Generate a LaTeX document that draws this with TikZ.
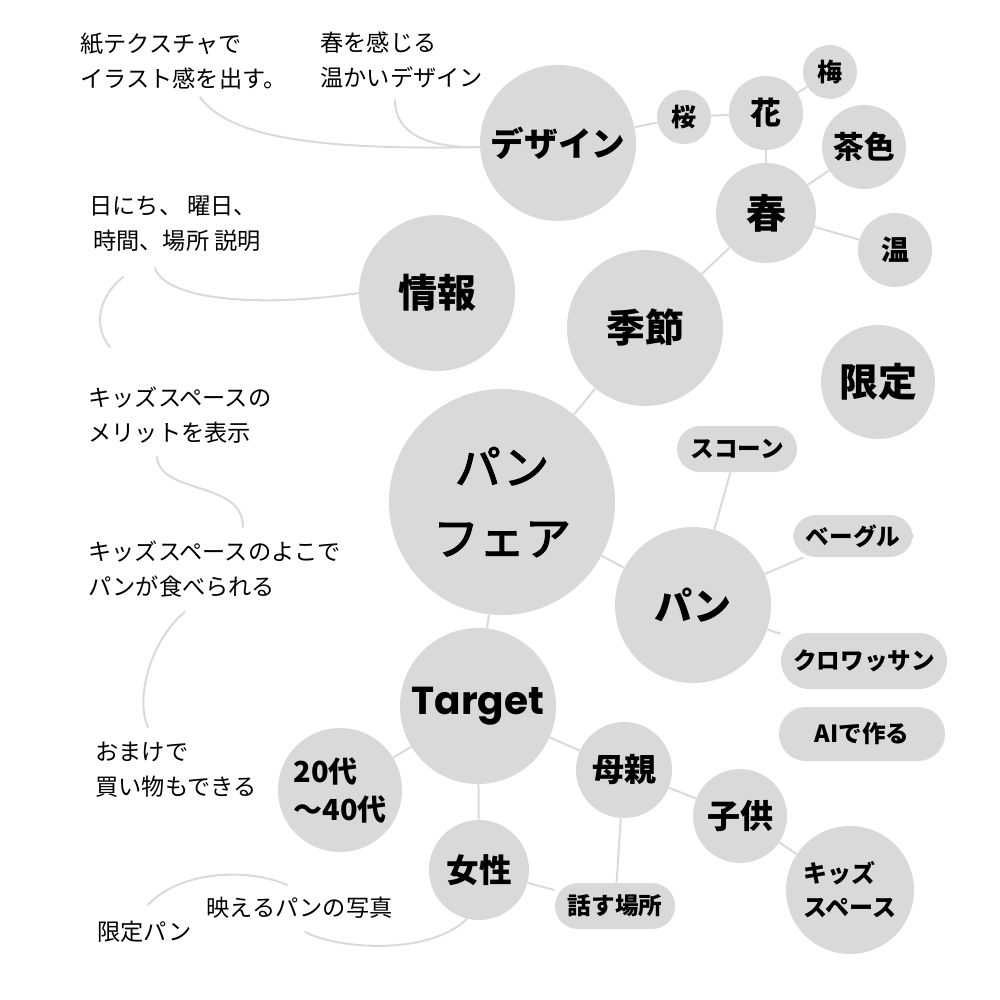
\documentclass[tikz,border=0pt]{standalone}
\usepackage{fontspec}
\setmainfont{Noto Sans CJK JP}
\newfontfamily\mediumjp{Noto Sans CJK JP}[BoldFont={Noto Sans CJK JP}, BoldFeatures={FakeBold=2.6}]
\newfontfamily\latinbold{Poppins}
\usepackage{xcolor}
\usetikzlibrary{calc}
\definecolor{bubblegray}{HTML}{D9D9D9}
\definecolor{linkgray}{HTML}{DADADA}
\newcommand{\fsz}[2]{\fontsize{#1}{#2}\selectfont}
\tikzset{
  bubble/.style={circle, fill=bubblegray, draw=none, inner sep=0pt,
                 minimum size=#1pt, align=center, text=black},
  pill/.style={rectangle, rounded corners=11.5pt, fill=bubblegray, inner sep=0pt,
               minimum height=23pt, text width=#1pt, align=center,
               font=\bfseries\fsz{11.8}{13}},
  note/.style={anchor=west, inner sep=0pt, align=left, text=black,
               font=\fsz{11.6}{17.5}},
  link/.style={draw=linkgray, line width=1pt},
  lead/.style={draw=linkgray, line width=1pt, line cap=round},
}
\begin{document}
\begin{tikzpicture}[x=0.5pt, y=-0.5pt]
  \fill[white] (0,0) rectangle (1000,1000);
  %% Center
  \node[bubble=113, font=\mediumjp\bfseries\fsz{23}{35.5}] (fair) at (502,502) {パン\\フェア};
  %% Season branch
  \node[bubble=78, font=\bfseries\fsz{19.5}{22}] (season) at (645,328) {季節};
  \node[bubble=50, font=\bfseries\fsz{20}{22}]   (spring) at (766,213) {春};
  \node[bubble=37, font=\bfseries\fsz{15.5}{18}] (flower) at (766,113) {花};
  \node[bubble=27, font=\bfseries\fsz{12.5}{14}] (sakura) at (684,117) {桜};
  \node[bubble=27, font=\bfseries\fsz{12.5}{14}] (ume)    at (830,72)  {梅};
  \node[bubble=42, font=\bfseries\fsz{15.3}{18}] (brown)  at (864,147) {茶色};
  \node[bubble=37, font=\bfseries\fsz{14}{16}]   (warm)   at (895,250) {温};
  \node[bubble=78, font=\bfseries\fsz{16.8}{20}] (design) at (558,143) {デザイン};
  \node[bubble=78, font=\bfseries\fsz{19.5}{22}] (info)   at (437,293) {情報};
  \node[bubble=57, font=\bfseries\fsz{19.5}{22}] (limited) at (878,382) {限定};
  \foreach \a/\b in {fair/season,season/spring,spring/flower,flower/sakura,
                     flower/ume,spring/brown,spring/warm,sakura/design}
    \draw[link] (\a) -- (\b);
  %% Bread branch
  \node[bubble=78, font=\bfseries\fsz{19}{22}] (bread) at (693,605) {パン};
  \node[pill=60]  (scone)     at (737,449) {スコーン};
  \node[pill=60, minimum height=21pt] (bagel) at (853,536) {ベーグル};
  \node[pill=83, minimum height=28pt, rounded corners=14pt] (croissant) at (864,661) {クロワッサン};
  \node[pill=83, minimum height=27pt, rounded corners=13.5pt] (ai) at (862,734) {AIで作る};
  \foreach \a/\b in {fair/bread,bread/scone,bread/bagel,bread/croissant}
    \draw[link] (\a) -- (\b);
  %% Target branch
  \node[bubble=78, font=\latinbold\bfseries\fsz{19.5}{22}] (target) at (478,706) {Target};
  \node[bubble=62, font=\bfseries\fsz{14.5}{19}, align=left] (age) at (340,790) {20代\\～40代};
  \node[bubble=48, font=\bfseries\fsz{16}{18}]   (mother) at (624,770) {母親};
  \node[bubble=47, font=\bfseries\fsz{16.5}{18}] (child)  at (740,816) {子供};
  \node[bubble=64, font=\bfseries\fsz{12}{17}, align=left] (kids) at (850,890) {キッズ\\スペース};
  \node[bubble=50, font=\bfseries\fsz{16.3}{18}] (woman)  at (479,870) {女性};
  \node[pill=60]  (talk) at (615,906) {話す場所};
  \foreach \a/\b in {fair/target,target/age,target/mother,target/woman,
                     mother/child,child/kids,mother/talk,woman/talk}
    \draw[link] (\a) -- (\b);
  %% Notes
  \node[note] (paper)   at (80,61)  {紙テクスチャで\\イラスト感を出す。};
  \node[note] (feel)    at (320,60) {春を感じる\\温かいデザイン};
  \node[note] (dates)   at (89,224) {日にち、 曜日、\\\,時間、場所 説明};
  \node[note] (merit)   at (88,415) {キッズスペースの\\メリットを表示};
  \node[note] (beside)  at (88,569) {キッズスペースのよこで\\パンが食べられる};
  \node[note] (bonus)   at (95,770) {おまけで\\買い物もできる};
  \node[note] (photo)   at (206,908) {映えるパンの写真};
  \node[note] (ltdbread) at (97,932) {限定パン};
  %% Lead curves
  \coordinate (p1) at (200,97);
  \coordinate (p2) at (395,100);
  \coordinate (p3) at (155,268);
  \coordinate (p4) at (123,277);
  \coordinate (p5) at (110,347);
  \coordinate (p6) at (157,457);
  \coordinate (p7) at (243,527);
  \coordinate (p8) at (185,612);
  \coordinate (p9) at (148,727);
  \coordinate (p10) at (148,905);
  \coordinate (p11) at (287,885);
  \coordinate (p12) at (305,932);
  \draw[lead] (p1) .. controls (230,140) and (330,150) .. (design.183);
  \draw[lead] (p2) .. controls (395,135) and (430,148) .. (design.183);
  \draw[lead] (p3) .. controls (165,300) and (260,308) .. (info.west);
  \draw[lead] (p4) .. controls (95,300) and (95,330) .. (p5);
  \draw[lead] (p6) .. controls (160,495) and (243,480) .. (p7);
  \draw[lead] (p8) .. controls (150,640) and (135,700) .. (p9);
  \draw[lead] (p10) .. controls (180,870) and (250,868) .. (p11);
  \draw[lead] (p12) .. controls (340,950) and (430,955) .. (woman.256);
\end{tikzpicture}
\end{document}
